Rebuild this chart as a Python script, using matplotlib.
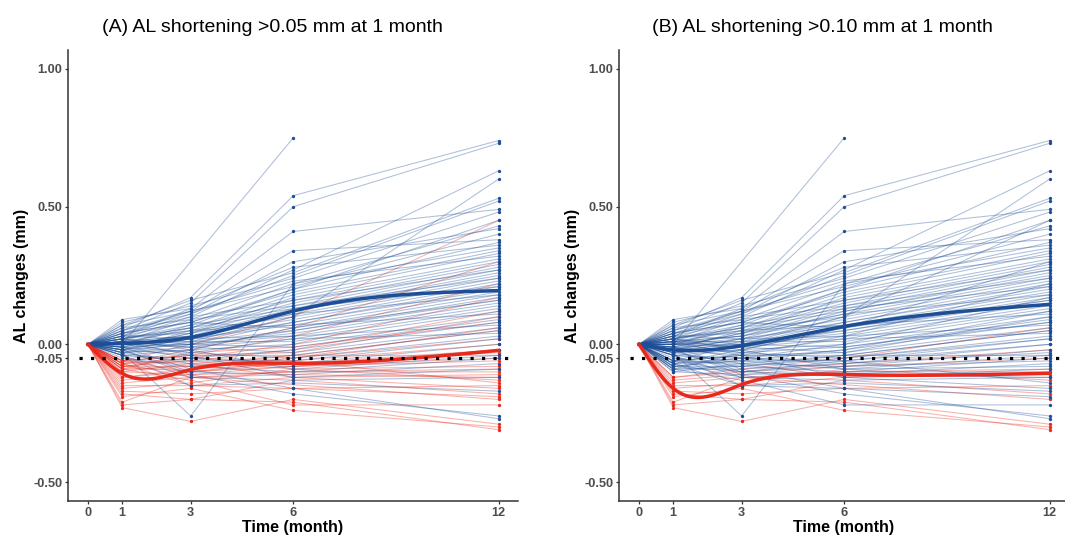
import numpy as np
import matplotlib
matplotlib.use("Agg")
import matplotlib.pyplot as plt

plt.rcParams["font.family"] = ["Liberation Sans", "DejaVu Sans"]

nan = np.nan
months = [0, 1, 3, 6, 12]

# AL change (mm) per eye at 1, 3, 6 and 12 months (0 at baseline)
al_m1 = [0.00, 0.06, 0.05, 0.09, 0.04, 0.02, -0.02, 0.07, 0.03, 0.08,
         0.01, 0.05, 0.00, 0.03, 0.02, -0.01, 0.04, 0.01, 0.06, 0.00,
         -0.02, 0.02, 0.03, -0.03, 0.01, 0.00, -0.01, 0.02, -0.04, 0.01,
         0.00, -0.02, 0.03, -0.01, 0.00, -0.03, 0.02, -0.04, 0.01, -0.02,
         0.00, -0.04, -0.01, -0.03, 0.02, -0.05, -0.02, 0.01, -0.04, -0.03,
         -0.01, -0.02, -0.04, 0.04, 0.05, 0.03, 0.07, 0.00, -0.01, 0.02,
         0.01, 0.04, -0.02, 0.00, -0.03,
         -0.06, -0.07, -0.06, -0.08, -0.07, -0.09, -0.06, -0.08, -0.07, -0.09,
         -0.06, -0.08, -0.10, -0.07, -0.09, -0.06, -0.08, -0.10, -0.07, -0.09,
         -0.12, -0.13, -0.14, -0.15, -0.16, -0.17, -0.18, -0.19, -0.22, -0.23,
         -0.21, -0.12]
al_m3 = [nan, 0.17, 0.15, 0.13, 0.12, 0.10, 0.05, 0.16, 0.11, 0.14,
         0.09, 0.12, 0.07, 0.08, 0.06, 0.04, 0.10, 0.05, 0.09, 0.03,
         0.02, 0.06, 0.04, 0.01, 0.03, 0.02, 0.00, 0.05, -0.02, 0.01,
         -0.01, 0.00, 0.02, -0.03, 0.01, -0.02, 0.00, -0.05, -0.01, -0.04,
         -0.03, -0.06, -0.05, -0.07, -0.02, -0.08, -0.10, -0.04, -0.12, -0.26,
         -0.09, -0.11, -0.15, 0.08, 0.11, 0.13, 0.12, 0.06, 0.04, 0.07,
         0.03, 0.08, 0.02, 0.00, -0.01,
         0.00, -0.02, -0.04, -0.05, -0.06, -0.03, -0.07, -0.08, -0.05, -0.09,
         -0.10, -0.06, -0.11, -0.12, -0.08, -0.04, -0.10, -0.07, -0.15, -0.13,
         -0.09, -0.11, -0.12, -0.15, -0.14, -0.18, -0.20, -0.16, -0.20, -0.28,
         -0.12, -0.10]
al_m6 = [0.75, 0.54, 0.50, 0.41, 0.34, 0.27, 0.10, 0.26, 0.25, 0.24,
         0.22, 0.21, 0.20, 0.19, 0.18, 0.17, 0.16, 0.15, 0.14, 0.13,
         0.12, 0.12, 0.11, 0.10, 0.09, 0.08, 0.08, 0.07, 0.06, 0.05,
         0.05, 0.04, 0.03, 0.02, 0.01, 0.00, -0.01, -0.02, -0.03, -0.04,
         -0.05, -0.06, -0.07, -0.08, -0.09, -0.10, -0.11, -0.12, -0.13, 0.22,
         -0.16, -0.18, -0.14, 0.20, 0.30, 0.28, 0.23, 0.16, 0.14, 0.13,
         0.11, 0.06, 0.07, 0.03, 0.02,
         0.10, 0.06, 0.03, 0.00, -0.02, -0.01, -0.04, -0.05, -0.06, -0.07,
         -0.08, -0.09, -0.10, -0.11, -0.04, -0.03, -0.06, -0.12, -0.16, -0.22,
         -0.05, -0.08, -0.10, -0.12, -0.09, -0.16, -0.13, -0.24, -0.21, -0.20,
         nan, -0.07]
al_m12 = [nan, 0.74, 0.73, 0.49, 0.38, 0.63, 0.60, 0.53, 0.52, 0.48,
          0.43, 0.40, 0.37, 0.34, 0.33, 0.31, 0.30, 0.29, 0.28, 0.27,
          0.26, 0.25, 0.24, 0.23, 0.22, 0.21, 0.20, 0.19, 0.18, 0.17,
          0.16, 0.15, 0.14, 0.13, 0.12, 0.10, 0.09, 0.08, 0.06, 0.05,
          0.03, 0.02, 0.00, -0.02, -0.04, -0.05, -0.07, -0.09, -0.12, 0.35,
          -0.27, -0.26, -0.17, 0.45, 0.42, 0.36, 0.32, 0.27, 0.24, 0.21,
          0.18, 0.16, 0.11, 0.07, 0.04,
          0.45, 0.30, 0.22, 0.17, 0.12, 0.08, 0.05, 0.02, 0.00, -0.03,
          -0.06, -0.08, -0.10, -0.12, -0.04, 0.10, -0.14, -0.16, -0.19, -0.22,
          0.06, -0.05, -0.09, -0.11, -0.13, -0.15, -0.18, -0.30, -0.31, -0.29,
          -0.20, -0.02]

# group mean trajectories
mean_a_blue = [0.0, 0.003, 0.025, 0.121, 0.195]
mean_a_red = [0.0, -0.106, -0.092, -0.069, -0.022]
mean_b_blue = [0.0, -0.02, -0.005, 0.065, 0.145]
mean_b_red = [0.0, -0.16, -0.146, -0.11, -0.105]

titles = ["(A) AL shortening >0.05 mm at 1 month",
          "(B) AL shortening >0.10 mm at 1 month"]
cutoffs = [-0.05, -0.10]
y_ticks = [1.00, 0.50, 0.00, -0.05, -0.50]
y_ticklabels = ["1.00", "0.50", "0.00", "-0.05", "-0.50"]

BLUE = "#1d4e96"
RED = "#e8291c"


def natural_spline(x, y, xs):
    # smooth curve through the group means
    x = np.asarray(x, float)
    y = np.asarray(y, float)
    n = len(x)
    h = np.diff(x)
    A = np.zeros((n, n))
    r = np.zeros(n)
    A[0, 0] = A[-1, -1] = 1
    for i in range(1, n - 1):
        A[i, i - 1] = h[i - 1]
        A[i, i] = 2 * (h[i - 1] + h[i])
        A[i, i + 1] = h[i]
        r[i] = 3 * ((y[i + 1] - y[i]) / h[i] - (y[i] - y[i - 1]) / h[i - 1])
    c = np.linalg.solve(A, r)
    b = (y[1:] - y[:-1]) / h - h * (2 * c[:-1] + c[1:]) / 3
    d = (c[1:] - c[:-1]) / (3 * h)
    idx = np.clip(np.searchsorted(x, xs) - 1, 0, n - 2)
    dx = xs - x[idx]
    return y[idx] + b[idx] * dx + c[idx] * dx ** 2 + d[idx] * dx ** 3


traj = np.column_stack([np.zeros(len(al_m1)), al_m1, al_m3, al_m6, al_m12])
t = np.array(months, float)

fig = plt.figure(figsize=(10.65, 5.41), dpi=100)
positions = [[68 / 1065, 40 / 541, 450 / 1065, 451 / 541],
             [619 / 1065, 40 / 541, 450 / 1065, 451 / 541]]
title_x = [272 / 1065, 822 / 1065]
means = [(mean_a_blue, mean_a_red), (mean_b_blue, mean_b_red)]

for k in range(2):
    ax = fig.add_axes(positions[k])
    red_mask = traj[:, 1] < cutoffs[k] - 1e-9

    # individual eyes: red first, blue on top
    for mask, col in [(red_mask, RED), (~red_mask, BLUE)]:
        for row in traj[mask]:
            ok = ~np.isnan(row)
            ax.plot(t[ok], row[ok], color=col, lw=0.75, alpha=0.36, zorder=2)
        pts = traj[mask][:, 1:]
        for j in range(4):
            v = pts[:, j]
            v = v[~np.isnan(v)]
            ax.plot(np.full(len(v), t[j + 1]), v, "o", color=col, ms=2.4,
                    mew=0, zorder=3)
    ax.plot([0], [0], "o", color=BLUE, ms=2.8, mew=0, zorder=3)

    # smoothed group means
    xs = np.linspace(0, 12, 300)
    ax.plot(xs, natural_spline(t, means[k][0], xs), color=BLUE, lw=2.5, zorder=5)
    ax.plot(xs, natural_spline(t, means[k][1], xs), color=RED, lw=2.5, zorder=5)

    # -0.05 reference line
    ax.plot([-0.27, 12.35], [-0.05, -0.05], color="black", lw=2.3,
            linestyle=(0, (1, 2.6)), zorder=6)

    ax.set_xlim(-0.585, 12.57)
    ax.set_ylim(-0.569, 1.069)
    ax.set_xticks(months)
    ax.set_xticklabels([str(m) for m in months])
    ax.set_yticks(y_ticks)
    ax.set_yticklabels(y_ticklabels)
    for s in ["top", "right"]:
        ax.spines[s].set_visible(False)
    for s in ["left", "bottom"]:
        ax.spines[s].set_color("#333333")
        ax.spines[s].set_linewidth(1.1)
    ax.tick_params(colors="#333333", length=2.5, width=0.9, pad=1.5,
                   labelsize=9.2, labelcolor="#4d4d4d")
    for lab in ax.get_xticklabels() + ax.get_yticklabels():
        lab.set_fontweight("bold")
    ax.set_xlabel("Time (month)", fontsize=11.5, fontweight="bold", labelpad=1)
    ax.set_ylabel("AL changes (mm)", fontsize=11.5, fontweight="bold", labelpad=3)
    fig.text(title_x[k], 1 - 27 / 541, titles[k], ha="center", va="center",
             fontsize=14)

fig.savefig("out.png", dpi=100)
